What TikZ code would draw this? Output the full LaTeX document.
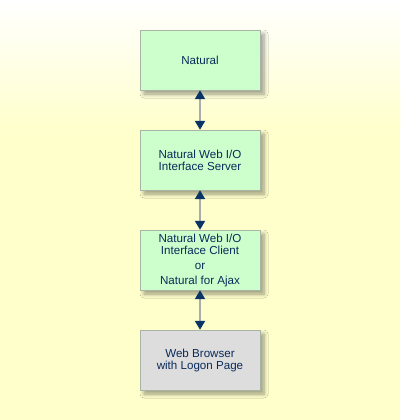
\documentclass[tikz,border=0pt]{standalone}
\usepackage{fontspec}
\setmainfont{Liberation Sans}
\usetikzlibrary{arrows.meta,shadows.blur}

\definecolor{boxgreen}{HTML}{CCFFCC}
\definecolor{boxgray}{HTML}{DDDDDD}
\definecolor{boxline}{HTML}{A8B4A8}
\definecolor{textblue}{HTML}{0A2A5A}
\definecolor{tipblue}{HTML}{0A3366}
\definecolor{linegray}{HTML}{A8ACAC}
\definecolor{bgyellow}{HTML}{FFFFCC}

\begin{document}
\begin{tikzpicture}[x=1pt,y=1pt]
    \tikzstyle{box}=[draw=boxline, fill=boxgreen, rectangle, minimum width=120pt, minimum height=60pt, inner sep=0, font=\fontsize{11.6}{12}\selectfont, text=textblue, align=center, blur shadow={shadow xshift=4pt, shadow yshift=-4pt, shadow blur steps=6, shadow opacity=40, shadow blur radius=4pt}];
    \tikzstyle{link}=[draw=linegray, line width=1.8pt, {Triangle[width=10pt,length=9pt,color=tipblue]}-{Triangle[width=10pt,length=9pt,color=tipblue]}];

    % background
    \useasboundingbox (0,0) rectangle (400,-420);
    \fill[bgyellow] (0,-130) rectangle (400,-420);
    \shade[top color=white, bottom color=bgyellow] (0,0) rectangle (400,-130.5);

    \node[box] at (200,-60) (nat) {Natural};
    \node[box] at (200,-160) (srv) {Natural Web I/O\\Interface Server};
    \node[box] at (200,-260) (cli) {Natural Web I/O\\Interface Client\\[3pt]or\\[3pt]Natural for Ajax};
    \node[box,fill=boxgray] at (200,-360) (web) {Web Browser\\with Logon Page};

    \draw[link] (nat) -- (srv);
    \draw[link] (srv) -- (cli);
    \draw[link] (cli) -- (web);
\end{tikzpicture}
\end{document}
